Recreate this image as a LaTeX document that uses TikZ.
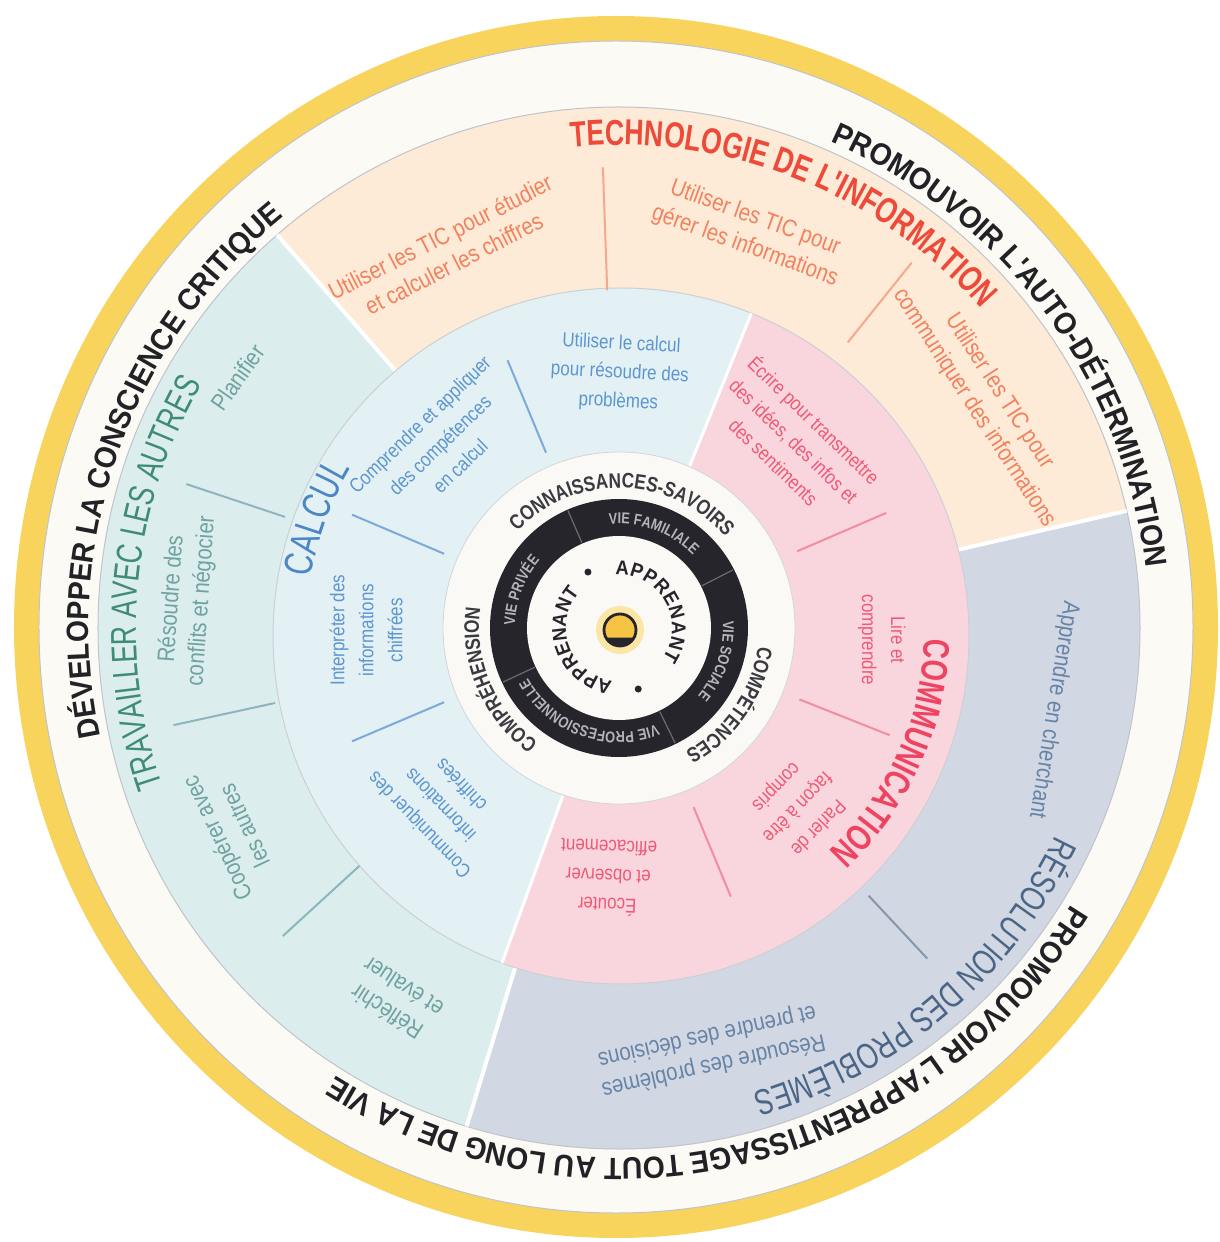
\documentclass[tikz,border=0pt]{standalone}
\usepackage{fontspec}
\usepackage{xcolor}
\usepackage{tikz}
\usetikzlibrary{decorations.text}
\setmainfont{Liberation Sans}
\newfontfamily\bandFam[FakeStretch=0.92]{Liberation Sans}
\newfontfamily\titleFam[FakeStretch=0.74]{Liberation Sans}
\newfontfamily\ringFam[FakeStretch=0.82]{Liberation Sans}
\newfontfamily\subFam[FakeStretch=0.85]{Liberation Sans}

\definecolor{rimYellow}{HTML}{F9D45C}
\definecolor{bandWhite}{HTML}{FBFAF5}
\definecolor{edgeGray}{HTML}{BFC4CA}
\definecolor{bandText}{HTML}{222226}
\definecolor{ticPeach}{HTML}{FDEAD7}
\definecolor{ticRed}{HTML}{EE4A3A}
\definecolor{ticText}{HTML}{F2825E}
\definecolor{ticLine}{HTML}{F5A98C}
\definecolor{workTeal}{HTML}{DCEDEE}
\definecolor{workGreen}{HTML}{3E8C78}
\definecolor{workText}{HTML}{6FA2A0}
\definecolor{workLine}{HTML}{8CB5BE}
\definecolor{solveGray}{HTML}{D2D8E3}
\definecolor{solveSlate}{HTML}{4A6586}
\definecolor{solveText}{HTML}{6783A6}
\definecolor{solveLine}{HTML}{8597AE}
\definecolor{calcBlue}{HTML}{E3F1F5}
\definecolor{calcTitle}{HTML}{4C86C4}
\definecolor{calcText}{HTML}{5C96D0}
\definecolor{calcLine}{HTML}{7BAADB}
\definecolor{commPink}{HTML}{F9D6DE}
\definecolor{commRed}{HTML}{EE4462}
\definecolor{commText}{HTML}{EE5A76}
\definecolor{commLine}{HTML}{F28DA0}
\definecolor{hubWhite}{HTML}{FAF9F5}
\definecolor{hubBlack}{HTML}{26252C}
\definecolor{hubText}{HTML}{B4B4BB}
\definecolor{hubLine}{HTML}{6C6A72}
\definecolor{ringText}{HTML}{3A3A40}
\definecolor{dotYellow}{HTML}{F6C445}
\definecolor{glowYellow}{HTML}{FBE6A6}

\newcommand\bandFont{\bandFam\bfseries\fontsize{15.4}{18}\selectfont\color{bandText}}
\newcommand\titleFont{\titleFam\fontsize{18}{21}\selectfont}
\newcommand\ringFont{\ringFam\bfseries\fontsize{10.5}{12}\selectfont\color{ringText}}
\newcommand\hubFont{\ringFam\bfseries\fontsize{7.8}{9}\selectfont\color{hubText}}
\newcommand\learnFont{\bandFam\bfseries\fontsize{10}{11}\selectfont\color{hubBlack}}

% radius, centre angle, half span, format, text
\newcommand\arcLabel[5]{%
  \path[decorate, decoration={text along path, text align=center, text={|#4|#5}}]
    (#2+#3:#1) arc[start angle=#2+#3, end angle=#2-#3, radius=#1];}

\tikzset{
  outerTxt/.style={font=\subFam\fontsize{12}{15}\selectfont, align=center, inner sep=0pt},
  innerTxt/.style={font=\subFam\fontsize{10}{14.5}\selectfont, align=center, inner sep=0pt},
  partLine/.style={line width=1pt},
  gapLine/.style={white, line width=2pt}
}

\begin{document}
\begin{tikzpicture}[x=0.5pt, y=0.5pt]
\useasboundingbox (-619,-614) rectangle (601,628);
\fill[white] (-619,-614) rectangle (601,628);

% rim and white band
\fill[rimYellow] (-3,1) ellipse[x radius=602, y radius=611];
\filldraw[fill=bandWhite, draw=edgeGray, line width=0.5pt] (-3,1) ellipse[x radius=577, y radius=586];

% outer ring
\fill[ticPeach] (0,0) -- (13:521) arc[start angle=13, end angle=131, radius=521] -- cycle;
\fill[workTeal] (0,0) -- (131:521) arc[start angle=131, end angle=253, radius=521] -- cycle;
\fill[solveGray] (0,0) -- (253:521) arc[start angle=253, end angle=373, radius=521] -- cycle;
\draw[edgeGray, line width=0.5pt] (0,0) circle[radius=521];
\foreach \a in {13,131,253} \draw[gapLine] (\a:320) -- (\a:521);

% middle ring
\begin{scope}[shift={(2,-8)}]
  \fill[calcBlue] (0,0) -- (68:348) arc[start angle=68, end angle=250, radius=348] -- cycle;
  \fill[commPink] (0,0) -- (-110:348) arc[start angle=-110, end angle=68, radius=348] -- cycle;
  \draw[edgeGray!80, line width=0.5pt] (0,0) circle[radius=348];
  \foreach \a in {68,250} \draw[gapLine, line width=1.5pt] (\a:170) -- (\a:348);
\end{scope}

% hub
\filldraw[fill=hubWhite, draw=edgeGray!70, line width=0.4pt] (0,0) circle[radius=176];
\fill[hubBlack] (0,0) circle[radius=129];
\fill[hubWhite] (0,0) circle[radius=92];

% part lines
\draw[partLine, ticLine] (92:338) -- (92:461);
\draw[partLine, ticLine] (51.3:366) -- (51.3:468);
\foreach \a in {161.6,192.3,222.5} \draw[partLine, workLine] (\a:352) -- (\a:456);
\draw[partLine, solveLine] (-47:366) -- (-47:452);
\foreach \a in {112.6,157,203} \draw[partLine, calcLine] (\a:190) -- (\a:290);
\foreach \a in {23.3,-21.6,-67.4} \draw[partLine, commLine] (\a:194) -- (\a:291);
\foreach \a in {113.5,27,-64,205} \draw[hubLine, line width=0.6pt] (\a:93) -- (\a:128);

% band texts
\arcLabel{530}{160.5}{45}{\bandFont}{DÉVELOPPER LA CONSCIENCE CRITIQUE}
\arcLabel{530}{36.5}{45}{\bandFont}{PROMOUVOIR L'AUTO-DÉTERMINATION}
\arcLabel{530}{-76.9}{60}{\bandFont}{PROMOUVOIR L'APPRENTISSAGE TOUT AU LONG DE LA VIE}

% ring titles
\arcLabel{483}{68.5}{35}{\titleFont\bfseries\color{ticRed}}{TECHNOLOGIE DE L'INFORMATION}
\arcLabel{483}{174.4}{35}{\titleFont\color{workGreen}}{TRAVAILLER AVEC LES AUTRES}
\arcLabel{483}{-49.7}{35}{\titleFont\color{solveSlate}}{RÉSOLUTION DES PROBLÈMES}
\arcLabel{312}{160}{25}{\titleFam\fontsize{20}{22}\selectfont\color{calcTitle}}{CALCUL}
\arcLabel{306}{-24.4}{35}{\titleFam\bfseries\fontsize{18.5}{21}\selectfont\color{commRed}}{COMMUNICATION}

% hub texts
\arcLabel{140}{88.5}{70}{\ringFont}{CONNAISSANCES-SAVOIRS}
\arcLabel{140}{-34.6}{45}{\ringFont}{COMPÉTENCES}
\arcLabel{140}{203.2}{50}{\ringFont}{COMPRÉHENSION}
\arcLabel{104}{70}{42}{\hubFont}{VIE FAMILIALE}
\arcLabel{104}{-18.5}{42}{\hubFont}{VIE SOCIALE}
\arcLabel{104}{-110}{46}{\hubFont}{VIE PROFESSIONNELLE}
\arcLabel{104}{159}{42}{\hubFont}{VIE PRIVÉE}
\path[decorate, decoration={text along path, text align=fit to path, text={|\learnFont|APPRENANT}}]
  (94:53) arc[start angle=94, end angle=-35, radius=53];
\path[decorate, decoration={text along path, text align=fit to path, text={|\learnFont|APPRENANT}}]
  (263:53) arc[start angle=263, end angle=138, radius=53];
\fill[hubBlack] (119:64) circle[radius=3.5];
\fill[hubBlack] (-72.5:64) circle[radius=3.5];

% outer ring texts
\node[outerTxt, text=ticText, rotate=27] (ticStudy) at (114.5:415) {Utiliser les TIC pour étudier\\et calculer les chiffres};
\node[outerTxt, text=ticText, rotate=-20] (ticManage) at (71.7:417) {Utiliser les TIC pour\\gérer les informations};
\node[outerTxt, text=ticText, rotate=-57] (ticShare) at (31.8:433) {Utiliser les TIC pour\\communiquer des informations};
\node[outerTxt, text=workText, rotate=55] (workPlan) at (146.7:456) {Planifier};
\node[outerTxt, text=workText, rotate=86] (workSolve) at (176.3:433) {Résoudre des\\conflits et négocier};
\node[outerTxt, text=workText, rotate=115] (workCoop) at (207.7:439) {Coopérer avec\\les autres};
\node[outerTxt, text=workText, rotate=147] (workReflect) at (238.9:434) {Réfléchir\\et évaluer};
\node[outerTxt, text=solveText, rotate=-99] (solveSearch) at (-10.7:442) {Apprendre en cherchant};
\node[outerTxt, text=solveText, rotate=-167.5] (solveDecide) at (-77.8:432) {Résoudre des problèmes\\et prendre des décisions};

% middle ring texts
\node[innerTxt, text=calcText, rotate=-3] (calcSolve) at (89.8:255) {Utiliser le calcul\\pour résoudre des\\problèmes};
\node[innerTxt, text=calcText, rotate=44] (calcApply) at (134.4:256) {Comprendre et appliquer\\des compétences\\en calcul};
\node[innerTxt, text=calcText, rotate=90] (calcRead) at (180.5:253) {Interpréter des\\informations\\chiffrées};
\node[innerTxt, text=calcText, rotate=134] (calcShare) at (224.7:252) {Communiquer des\\informations\\chiffrées};
\node[innerTxt, text=commText, rotate=-44] (commWrite) at (46.9:257) {Écrire pour transmettre\\des idées, des infos et\\des sentiments};
\node[innerTxt, text=commText, rotate=-90] (commRead) at (-2.6:263) {Lire et\\comprendre};
\node[innerTxt, text=commText, rotate=-134] (commSpeak) at (-45.2:252) {Parler de\\façon à être\\compris};
\node[innerTxt, text=commText, rotate=178] (commListen) at (-92.5:250) {Écouter\\et observer\\efficacement};

% centre dot
\begin{scope}[shift={(1,-2)}]
  \fill[glowYellow] (0,0) circle[radius=24];
  \fill[dotYellow] (0,0) circle[radius=16];
  \fill[hubBlack] (208:16) arc[start angle=208, end angle=332, radius=16] -- cycle;
  \draw[hubBlack, line width=1.4pt] (0,0) circle[radius=16];
\end{scope}
\end{tikzpicture}
\end{document}
